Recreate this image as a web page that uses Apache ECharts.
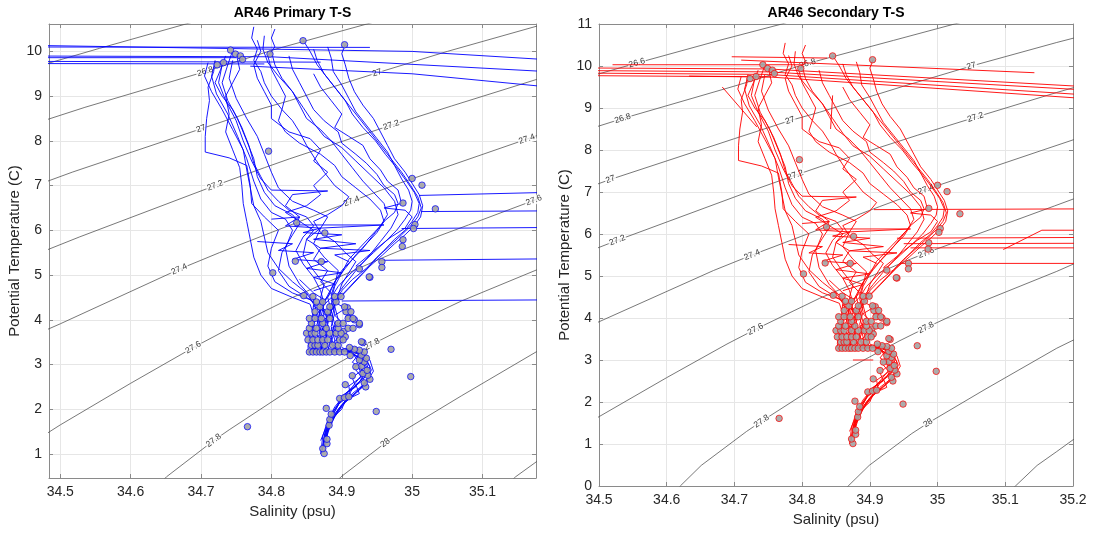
<!DOCTYPE html>
<html><head><meta charset="utf-8">
<script src="https://cdn.jsdelivr.net/npm/echarts@6/dist/echarts.min.js"></script>
<style>html,body{margin:0;padding:0;background:#fff}#c{width:1094px;height:533px}</style>
</head><body><div id="c"></div>
<script>
// ---------- tick labels ----------
const salinityTicksPrimary = [34.5, 34.6, 34.7, 34.8, 34.9, 35.0, 35.1];
const temperatureTicksPrimary = [1, 2, 3, 4, 5, 6, 7, 8, 9, 10];
const salinityTicksSecondary = [34.5, 34.6, 34.7, 34.8, 34.9, 35.0, 35.1, 35.2];
const temperatureTicksSecondary = [0, 1, 2, 3, 4, 5, 6, 7, 8, 9, 10, 11];
const titles = ['AR46 Primary T-S', 'AR46 Secondary T-S'];

// ---------- density (sigma-theta) contours: [S, T] ----------
const contour266 = [[34.40,9.35],[34.484,9.74],[34.556,10.07],[34.68,10.62],[34.77,11.0],[34.80,11.15]];
const contour268 = [[34.40,8.1],[34.484,8.49],[34.535,8.75],[34.706,9.55],[34.808,10.06],[34.935,10.61],[35.025,11.0],[35.1,11.3]];
const contour270 = [[34.40,6.65],[34.484,7.11],[34.517,7.3],[34.70,8.27],[34.782,8.7],[34.826,8.9],[34.95,9.52],[35.05,10.0],[35.176,10.56],[35.2,10.66],[35.3,11.1]];
const contour272 = [[34.40,5.05],[34.484,5.58],[34.527,5.85],[34.72,7.0],[34.79,7.4],[34.826,7.6],[34.97,8.35],[35.056,8.78],[35.176,9.37],[35.2,9.48],[35.3,9.95]];
const contour274 = [[34.40,3.2],[34.484,3.8],[34.5,3.91],[34.669,5.13],[34.726,5.5],[34.914,6.65],[34.983,7.06],[35.163,8.04],[35.2,8.24],[35.3,8.75]];
const contour276 = [[34.40,0.5],[34.484,1.49],[34.5,1.65],[34.6,2.58],[34.689,3.38],[34.731,3.73],[34.826,4.47],[34.96,5.4],[34.983,5.55],[35.08,6.12],[35.173,6.67],[35.2,6.83],[35.3,7.4]];
const contour278 = [[34.61,-0.2],[34.62,0.0],[34.651,0.49],[34.718,1.3],[34.74,1.54],[34.826,2.43],[34.943,3.45],[34.983,3.77],[35.07,4.42],[35.176,5.11],[35.2,5.28],[35.3,5.9]];
const contour280 = [[34.855,-0.2],[34.868,0.0],[34.899,0.49],[34.962,1.25],[34.986,1.5],[35.07,2.3],[35.176,3.28],[35.2,3.47],[35.3,4.2]];
const contour282 = [[35.1,-0.2],[35.115,0.0],[35.147,0.49],[35.176,0.82],[35.2,1.1],[35.3,2.0]];
const contours = [contour266, contour268, contour270, contour272, contour274, contour276, contour278, contour280, contour282];

// contour labels: [text, S, T, contour index]
const contourLabelsPrimary = [
  ['26.8',34.706,9.55,1],['27',34.70,8.27,2],['27',34.95,9.52,2],
  ['27.2',34.72,7.0,3],['27.2',34.97,8.35,3],
  ['27.4',34.669,5.13,4],['27.4',34.914,6.65,4],['27.4',35.163,8.04,4],
  ['27.6',34.689,3.38,5],['27.6',35.173,6.67,5],
  ['27.8',34.718,1.3,6],['27.8',34.943,3.45,6],['28',34.962,1.25,7]
];
const contourLabelsSecondary = [
  ['26.6',34.556,10.07,0],['26.8',34.535,8.75,1],['26.8',34.808,10.06,1],
  ['27',34.517,7.3,2],['27',34.782,8.7,2],['27',35.05,10.0,2],
  ['27.2',34.527,5.85,3],['27.2',34.79,7.4,3],['27.2',35.056,8.78,3],
  ['27.4',34.726,5.5,4],['27.4',34.983,7.06,4],
  ['27.6',34.731,3.73,5],['27.6',34.983,5.55,5],
  ['27.8',34.74,1.54,6],['27.8',34.983,3.77,6],['28',34.986,1.5,7]
];

// ---------- CTD profiles [S, T] ----------
const profileA1 = [[34.72,9.78],[34.715,9.45],[34.722,9.05],[34.738,8.6],[34.752,8.1],[34.765,7.6],[34.775,7.1],[34.785,6.7],[34.80,6.4],[34.82,6.25],[34.83,6.0],[34.82,5.6],[34.825,5.2],[34.84,4.8],[34.86,4.45],[34.865,4.1],[34.858,3.8],[34.862,3.5],[34.855,3.3],[34.9,3.32],[34.915,3.25],[34.925,3.05],[34.93,2.8],[34.915,2.5],[34.9,2.25],[34.89,2.0],[34.88,1.7],[34.875,1.4],[34.872,1.05]];
const profileA2 = [[34.745,10.02],[34.738,9.7],[34.73,9.3],[34.738,8.9],[34.752,8.5],[34.765,8.0],[34.775,7.6],[34.78,7.2],[34.79,6.85],[34.805,6.55],[34.83,6.35],[34.84,6.15],[34.83,5.9],[34.815,5.5],[34.81,5.1],[34.825,4.75],[34.85,4.5],[34.87,4.3],[34.866,3.95],[34.87,3.6],[34.862,3.35],[34.88,3.28],[34.91,3.35],[34.93,3.2],[34.94,2.95],[34.93,2.65],[34.91,2.4],[34.895,2.1],[34.885,1.8],[34.878,1.5],[34.874,1.15]];
const profileA3 = [[34.72,9.8],[34.718,9.55],[34.71,9.2],[34.712,8.9],[34.708,8.5],[34.706,8.1],[34.706,7.75],[34.74,7.62],[34.765,7.45],[34.77,7.0],[34.772,6.6],[34.79,6.3],[34.81,6.0],[34.8,5.6],[34.795,5.2],[34.805,4.85],[34.83,4.6],[34.855,4.45],[34.87,4.25],[34.868,3.9],[34.875,3.55],[34.87,3.3],[34.9,3.3]];
const profileA4 = [[34.75,9.95],[34.755,9.6],[34.745,9.3],[34.735,9.0],[34.74,8.6],[34.735,8.2],[34.745,7.8],[34.755,7.4],[34.758,7.0],[34.76,6.6],[34.765,6.2],[34.77,5.8],[34.775,5.4],[34.785,5.0],[34.8,4.7],[34.83,4.5],[34.855,4.35],[34.862,4.0],[34.855,3.7],[34.86,3.4],[34.858,3.25]];
const profileA5 = [[34.745,9.8],[34.74,9.4],[34.75,8.95],[34.765,8.5],[34.78,8.1],[34.79,7.7],[34.8,7.3],[34.81,6.95],[34.83,6.65],[34.86,6.45],[34.88,6.3],[34.87,6.05],[34.86,5.7],[34.875,5.4],[34.895,5.1],[34.89,4.8],[34.885,4.55],[34.89,4.3],[34.885,4.0],[34.89,3.75],[34.885,3.5],[34.89,3.3],[34.915,3.35],[34.93,3.15],[34.925,2.9],[34.93,2.7],[34.915,2.45],[34.905,2.2],[34.895,1.95],[34.885,1.7],[34.878,1.35]];
const profileA6 = [[34.73,9.7],[34.725,9.3],[34.735,8.9],[34.75,8.45],[34.76,8.0],[34.772,7.55],[34.785,7.15],[34.8,6.9],[34.88,6.88],[34.83,6.8],[34.82,6.55],[34.84,6.3],[34.835,6.12],[34.96,6.12],[34.87,6.05],[34.85,5.8],[34.845,5.45],[34.86,5.1],[34.875,4.8],[34.87,4.5],[34.875,4.2],[34.87,3.9],[34.878,3.6],[34.872,3.35]];
const profileA7 = [[34.735,9.9],[34.728,9.6],[34.72,9.3],[34.73,9.0],[34.745,8.7],[34.758,8.3],[34.768,7.9],[34.775,7.5],[34.785,7.2],[34.795,6.9],[34.81,6.65],[34.825,6.45],[34.85,6.3],[34.86,6.1],[34.845,5.85],[34.835,5.55],[34.845,5.25],[34.86,4.95],[34.87,4.65],[34.875,4.35],[34.87,4.05],[34.875,3.75],[34.868,3.45],[34.872,3.27],[34.91,3.3],[34.935,3.05],[34.94,2.75],[34.925,2.45],[34.905,2.15],[34.89,1.85],[34.88,1.55],[34.875,1.25]];
const profileA8 = [[34.71,9.75],[34.705,9.45],[34.715,9.1],[34.73,8.7],[34.745,8.25],[34.76,7.8],[34.765,7.35],[34.77,6.95],[34.775,6.55],[34.785,6.2],[34.79,5.85],[34.795,5.5],[34.81,5.15],[34.83,4.85],[34.85,4.6],[34.86,4.35],[34.858,4.05],[34.862,3.75],[34.856,3.45],[34.86,3.27]];
const profileB1 = [[34.805,10.5],[34.8,10.3],[34.805,10.1],[34.795,9.9],[34.8,9.6],[34.81,9.3],[34.82,9.0],[34.815,8.7],[34.81,8.45],[34.82,8.2],[34.84,7.95],[34.87,7.7],[34.89,7.45],[34.9,7.2],[34.92,6.95],[34.94,6.7],[34.955,6.45],[34.96,6.2],[34.95,5.95],[34.935,5.7],[34.92,5.45],[34.905,5.15],[34.89,4.85],[34.88,4.5],[34.885,4.2],[34.89,3.9],[34.885,3.6],[34.89,3.35],[34.91,3.3],[34.925,3.15],[34.935,2.9],[34.925,2.6],[34.905,2.35],[34.89,2.05],[34.88,1.75],[34.873,1.4],[34.87,1.0]];
const profileB2 = [[34.79,10.35],[34.788,10.05],[34.795,9.75],[34.81,9.45],[34.83,9.1],[34.845,8.75],[34.86,8.4],[34.875,8.1],[34.9,7.85],[34.92,7.55],[34.94,7.25],[34.96,6.95],[34.975,6.65],[34.98,6.35],[34.97,6.05],[34.955,5.75],[34.94,5.45],[34.92,5.1],[34.905,4.8],[34.89,4.5],[34.88,4.2],[34.875,3.85],[34.88,3.5],[34.875,3.3]];
const profileB3 = [[34.78,10.25],[34.785,10.0],[34.775,9.7],[34.78,9.4],[34.79,9.1],[34.8,8.8],[34.8,8.5],[34.825,8.2],[34.855,8.05],[34.87,7.8],[34.86,7.55],[34.88,7.3],[34.86,7.0],[34.87,6.8],[34.85,6.55],[34.82,6.4],[34.84,6.2],[34.86,6.0],[34.85,5.8],[34.87,5.6],[34.86,5.35],[34.88,5.1],[34.87,4.85],[34.885,4.6],[34.87,4.35],[34.88,4.0],[34.87,3.7],[34.88,3.45],[34.875,3.28],[34.92,3.38],[34.94,3.1],[34.945,2.85],[34.935,2.6],[34.915,2.35],[34.9,2.1],[34.888,1.85],[34.88,1.55],[34.876,1.2]];
const profileB4 = [[34.775,10.55],[34.772,10.3],[34.78,10.05],[34.775,9.8],[34.785,9.55],[34.79,9.3],[34.8,9.0],[34.815,8.7],[34.83,8.45],[34.84,8.2],[34.85,7.9],[34.862,7.6],[34.875,7.3],[34.89,7.0],[34.91,6.75],[34.9,6.55],[34.88,6.35],[34.86,6.2],[34.87,5.95],[34.89,5.75],[34.905,5.5],[34.92,5.3],[34.91,5.05],[34.9,4.8],[34.895,4.55],[34.89,4.3],[34.895,4.0],[34.89,3.7],[34.895,3.45],[34.9,3.3]];
const profileB5 = [[34.8,10.0],[34.805,9.7],[34.815,9.4],[34.83,9.1],[34.84,8.8],[34.85,8.5],[34.87,8.25],[34.885,8.0],[34.9,7.7],[34.915,7.4],[34.93,7.1],[34.945,6.85],[34.96,6.6],[34.965,6.35],[34.955,6.1],[34.94,5.85],[34.925,5.6],[34.91,5.35],[34.9,5.05],[34.89,4.75],[34.885,4.45],[34.89,4.15],[34.885,3.85],[34.89,3.55],[34.892,3.32]];
const profileC1 = [[34.845,10.25],[34.855,10.0],[34.865,9.7],[34.88,9.4],[34.895,9.1],[34.91,8.8],[34.925,8.5],[34.94,8.2],[34.955,7.9],[34.97,7.6],[34.985,7.3],[34.998,7.0],[35.008,6.75],[35.013,6.5],[35.008,6.3],[34.998,6.1],[34.985,5.9],[34.968,5.65],[34.95,5.4],[34.935,5.15],[34.915,4.9],[34.9,4.65],[34.89,4.4],[34.88,4.1],[34.875,3.8],[34.87,3.5],[34.872,3.3],[34.905,3.32],[34.93,3.1],[34.94,2.8],[34.93,2.5],[34.91,2.25],[34.895,2.0],[34.882,1.7],[34.875,1.35],[34.872,1.05]];
const profileC2 = [[34.905,10.15],[34.9,9.95],[34.905,9.7],[34.91,9.4],[34.918,9.1],[34.93,8.8],[34.945,8.5],[34.955,8.2],[34.965,7.9],[34.975,7.6],[34.99,7.3],[35.0,7.05],[35.01,6.8],[35.015,6.55],[35.012,6.3],[35.003,6.1],[34.99,5.9],[34.975,5.7],[34.958,5.45],[34.94,5.2],[34.925,4.95],[34.91,4.7],[34.895,4.45],[34.885,4.2],[34.88,3.9],[34.885,3.6],[34.88,3.3]];
const profileC3 = [[34.88,10.1],[34.885,9.85],[34.888,9.55],[34.9,9.25],[34.91,8.95],[34.92,8.65],[34.935,8.35],[34.95,8.05],[34.965,7.75],[34.975,7.45],[34.985,7.15],[34.995,6.9],[35.0,6.65],[34.998,6.45],[34.99,6.25],[34.978,6.0],[34.962,5.75],[34.945,5.5],[34.928,5.25],[34.91,5.0],[34.895,4.75],[34.885,4.5],[34.87,4.25],[34.865,3.9],[34.858,3.55],[34.86,3.3]];
const profileC4 = [[34.825,9.9],[34.83,9.6],[34.84,9.3],[34.85,9.0],[34.86,8.7],[34.875,8.45],[34.895,8.2],[34.9,7.95],[34.92,7.7],[34.935,7.5],[34.95,7.25],[34.96,7.0],[34.975,6.8],[34.98,6.6],[34.975,6.4],[34.96,6.2],[34.945,5.9],[34.93,5.6],[34.915,5.35],[34.9,5.1],[34.89,4.85],[34.88,4.55],[34.872,4.3],[34.86,4.0],[34.855,3.7],[34.852,3.4],[34.853,3.25]];
const profileC5 = [[34.86,10.05],[34.865,9.8],[34.875,9.5],[34.89,9.2],[34.905,8.9],[34.915,8.6],[34.93,8.3],[34.948,8.0],[34.962,7.7],[34.978,7.4],[34.992,7.1],[35.003,6.85],[35.01,6.6],[35.008,6.4],[35.0,6.2],[34.99,6.0],[34.975,5.8],[34.96,5.55],[34.945,5.3],[34.93,5.05],[34.915,4.8],[34.9,4.55],[34.888,4.3],[34.88,4.0],[34.878,3.7],[34.88,3.4],[34.885,3.28],[34.915,3.3],[34.935,3.12],[34.942,2.88],[34.935,2.6],[34.92,2.35],[34.9,2.1],[34.888,1.8],[34.88,1.5],[34.876,1.1]];
const profileC6 = [[34.86,9.5],[34.87,9.2],[34.885,8.9],[34.9,8.6],[34.89,8.3],[34.91,8.1],[34.93,7.9],[34.94,7.6],[34.955,7.35],[34.965,7.1],[34.98,6.9],[34.985,6.6],[34.96,6.5],[34.99,6.45],[35.0,6.3],[34.99,6.05],[34.97,5.85],[34.95,5.6],[34.935,5.4],[34.92,5.2]];
const profileZ1 = [[34.8,6.25],[34.84,6.3],[34.82,6.1],[34.87,6.05],[34.845,5.95],[34.9,5.9],[34.86,5.8],[34.92,5.7],[34.87,5.6],[34.94,5.55],[34.89,5.45],[34.91,5.3]];
const profileZ2 = [[34.78,5.75],[34.83,5.7],[34.81,5.55],[34.86,5.5],[34.83,5.35],[34.88,5.3],[34.85,5.15],[34.9,5.05],[34.86,4.95],[34.89,4.8],[34.86,4.65]];
const profileT1 = [[34.84,4.9],[34.86,4.6],[34.875,4.45],[34.86,4.3],[34.88,4.15],[34.862,4.0],[34.878,3.85],[34.86,3.7],[34.875,3.55],[34.858,3.4],[34.87,3.25]];
const profileT2 = [[34.9,4.6],[34.89,4.4],[34.905,4.25],[34.89,4.1],[34.9,3.95],[34.885,3.8],[34.895,3.6],[34.885,3.45],[34.895,3.3]];
const profileT3 = [[34.905,3.35],[34.92,3.3],[34.93,3.15],[34.925,2.95],[34.935,2.75],[34.92,2.55],[34.925,2.35],[34.905,2.2],[34.9,2.0],[34.89,1.85],[34.885,1.65],[34.88,1.5]];
const profileT4 = [[34.91,3.4],[34.925,3.25],[34.915,3.05],[34.93,2.9],[34.915,2.7],[34.92,2.5],[34.9,2.3],[34.895,2.1],[34.885,1.9],[34.878,1.6],[34.87,1.3]];
const profileT5 = [[34.88,4.5],[34.87,4.3],[34.885,4.1],[34.868,3.95],[34.882,3.8],[34.865,3.62],[34.88,3.48],[34.862,3.35],[34.875,3.24]];
const profileT6 = [[34.9,3.38],[34.915,3.28],[34.925,3.12],[34.918,2.92],[34.928,2.72],[34.91,2.52],[34.912,2.32],[34.896,2.12],[34.89,1.95],[34.882,1.72],[34.876,1.45],[34.873,1.15]];
const profiles = [profileA1, profileA2, profileA3, profileA4, profileA5, profileA6, profileA7, profileA8,
  profileB1, profileB2, profileB3, profileB4, profileB5,
  profileC1, profileC2, profileC3, profileC4, profileC5, profileC6,
  profileZ1, profileZ2, profileT1, profileT2, profileT3, profileT4, profileT5, profileT6];

// surface / deep spikes, primary sensors
const primarySpikes = [
  [[34.40,10.15],[35.0,10.0],[35.25,9.76]],
  [[34.40,10.1],[34.94,10.09]],
  [[34.40,9.9],[34.8,9.88],[35.25,9.5]],
  [[34.77,9.67],[35.0,9.5],[35.25,9.12]],
  [[34.40,9.78],[34.87,9.76]],
  [[34.40,9.73],[34.79,9.72]],
  [[34.40,9.86],[34.75,9.86]],
  [[35.01,6.78],[35.25,6.87]],
  [[35.013,6.42],[35.25,6.44]],
  [[34.985,6.04],[35.25,6.07]],
  [[34.955,5.33],[35.25,5.37]],
  [[34.9,4.42],[35.25,4.45]]
];
// surface / deep spikes, secondary sensors
const secondarySpikes = [
  [[34.52,10.03],[34.803,10.03]],
  [[34.40,9.96],[34.75,9.93],[35.25,9.48]],
  [[34.40,9.9],[34.75,9.86],[35.25,9.4]],
  [[34.40,9.84],[34.75,9.8],[35.25,9.28]],
  [[34.40,9.78],[34.75,9.74],[35.25,9.19]],
  [[34.696,10.22],[34.837,10.19]],
  [[34.71,10.14],[35.143,9.84]],
  [[34.633,9.76],[34.754,9.74]],
  [[34.682,9.5],[34.733,8.55]],
  [[34.845,9.3],[34.842,8.5]],
  [[34.906,6.58],[35.25,6.6]],
  [[35.097,5.63],[35.154,6.09],[35.25,6.09]],
  [[34.94,5.9],[35.25,5.92]],
  [[34.95,5.77],[35.25,5.78]],
  [[34.96,5.67],[35.25,5.67]],
  [[34.945,5.3],[35.25,5.3]],
  [[34.875,3.0],[34.905,3.0]]
];

// bottle samples [S, T]
const bottles = [
  [34.742,10.03],[34.749,9.94],[34.756,9.9],[34.759,9.82],[34.723,9.7],[34.732,9.75],[34.798,9.94],[34.845,10.24],[34.904,10.15],
  [34.796,7.77],[35.0,7.16],[35.014,7.01],[34.987,6.61],[35.033,6.48],[35.004,6.13],[35.002,6.04],[34.987,5.79],[34.986,5.64],
  [34.834,5.31],[34.802,5.05],[34.871,5.3],[34.957,5.3],[34.957,5.17],[34.94,4.95],[34.925,5.14],[34.876,5.94],[34.836,6.17],
  [34.91,4.04],[34.918,4.0],[34.908,4.27],[34.925,3.89],[34.903,3.74],[34.905,3.62],[34.93,3.49],[34.97,3.34],[34.998,2.73],
  [34.949,1.95],[34.766,1.61],[34.846,4.54],
  [34.875,1.01],[34.873,1.12],[34.879,1.23],[34.879,1.33],[34.882,1.64],[34.883,1.77],[34.885,1.89],[34.878,2.02],
  [34.897,2.24],[34.904,2.26],[34.91,2.28],[34.934,2.5],[34.932,2.59],[34.94,2.67],[34.937,2.76],[34.93,2.8],[34.936,2.87],
  [34.928,2.96],[34.932,3.06],[34.925,3.1],[34.935,3.14],[34.928,3.21],[34.932,3.28],[34.925,3.32],[34.918,3.34],[34.911,3.38],
  [34.928,3.51],[34.939,4.96],[34.905,2.55],[34.915,2.75],[34.92,2.95],[34.912,3.2],
  [34.854,3.28],[34.859,3.28],[34.864,3.28],[34.869,3.28],[34.873,3.28],[34.878,3.28],[34.883,3.28],[34.890,3.28],[34.897,3.28],[34.904,3.28],
  [34.857,3.43],[34.862,3.43],[34.866,3.43],[34.876,3.43],[34.887,3.43],[34.895,3.43],
  [34.852,3.55],[34.859,3.55],[34.866,3.55],[34.873,3.55],[34.880,3.55],[34.897,3.55],[34.902,3.55],
  [34.850,3.70],[34.857,3.70],[34.862,3.70],[34.873,3.70],[34.883,3.70],[34.892,3.70],[34.899,3.70],
  [34.854,3.81],[34.864,3.81],[34.878,3.81],[34.895,3.81],[34.909,3.81],[34.916,3.81],
  [34.857,3.92],[34.873,3.92],[34.895,3.92],[34.902,3.92],[34.925,3.92],
  [34.854,4.03],[34.862,4.03],[34.871,4.03],[34.883,4.03],[34.909,4.03],[34.916,4.03],
  [34.862,4.18],[34.880,4.18],[34.906,4.18],[34.913,4.18],
  [34.869,4.29],[34.883,4.29],[34.904,4.29],
  [34.864,4.40],[34.873,4.40],[34.892,4.40],
  [34.859,4.52],[34.890,4.52],[34.899,4.52]
];

// ---------- layout ----------
const panels = [
  {left:49, top:24, width:487, height:454, xmin:34.484, xmax:35.176, ymin:0.463, ymax:10.613,
   xt:salinityTicksPrimary, yt:temperatureTicksPrimary, color:'#0000ff', spikes:primarySpikes, labels:contourLabelsPrimary},
  {left:599, top:24, width:474, height:462, xmin:34.5, xmax:35.2, ymin:0, ymax:11,
   xt:salinityTicksSecondary, yt:temperatureTicksSecondary, color:'#ff0000', spikes:secondarySpikes, labels:contourLabelsSecondary}
];
const FONT = 'Liberation Sans, Arial, Helvetica, sans-serif';
const AX = '#8a8a8a';
const fmt = v => String(Number(Number(v).toFixed(3)));

const grid = [], xAxis = [], yAxis = [], series = [], graphic = [];
panels.forEach((p, gi) => {
  grid.push({left:p.left, top:p.top, width:p.width, height:p.height, containLabel:false});
  const common = {type:'value', gridIndex:gi, axisLine:{show:true, onZero:false, lineStyle:{color:AX, width:1}}};
  xAxis.push(Object.assign({}, common, {position:'bottom', min:p.xmin, max:p.xmax,
    axisTick:{show:true, inside:true, length:4, customValues:p.xt, lineStyle:{color:AX}},
    axisLabel:{show:true, customValues:p.xt, formatter:fmt, margin:7, fontSize:14, color:'#262626', fontFamily:FONT},
    splitLine:{show:true, lineStyle:{color:'#e6e6e6', width:1}},
    name:'Salinity (psu)', nameLocation:'middle', nameGap:25, nameTextStyle:{fontSize:15, color:'#262626', fontFamily:FONT}}));
  xAxis.push(Object.assign({}, common, {position:'top', min:p.xmin, max:p.xmax,
    axisTick:{show:true, inside:true, length:4, customValues:p.xt, lineStyle:{color:AX}},
    axisLabel:{show:false}, splitLine:{show:false}}));
  yAxis.push(Object.assign({}, common, {position:'left', min:p.ymin, max:p.ymax,
    axisTick:{show:true, inside:true, length:4, customValues:p.yt, lineStyle:{color:AX}},
    axisLabel:{show:true, customValues:p.yt, formatter:fmt, margin:7, fontSize:14, color:'#262626', fontFamily:FONT},
    splitLine:{show:true, lineStyle:{color:'#e6e6e6', width:1}},
    name:'Potential Temperature (C)', nameLocation:'middle', nameGap:23, nameTextStyle:{fontSize:15, color:'#262626', fontFamily:FONT}}));
  yAxis.push(Object.assign({}, common, {position:'right', min:p.ymin, max:p.ymax,
    axisTick:{show:true, inside:true, length:4, customValues:p.yt, lineStyle:{color:AX}},
    axisLabel:{show:false}, splitLine:{show:false}}));
  const xi = gi * 2, yi = gi * 2;

  // contours
  contours.forEach(c => series.push({type:'line', xAxisIndex:xi, yAxisIndex:yi, data:c, showSymbol:false, silent:true,
    smooth:false, lineStyle:{color:'#555', width:0.8}, z:1, animation:false}));
  // contour labels with rotation following the local slope
  const pxPerX = p.width / (p.xmax - p.xmin), pxPerY = p.height / (p.ymax - p.ymin);
  const labelData = p.labels.map(([txt, s, t, ci]) => {
    const c = contours[ci];
    let k = 0;
    while (k < c.length - 2 && c[k + 1][0] < s) k++;
    const slope = (c[k + 1][1] - c[k][1]) / (c[k + 1][0] - c[k][0]);
    const ang = Math.atan(slope * pxPerY / pxPerX) * 180 / Math.PI;
    return {value:[s, t], label:{formatter:txt, rotate:ang}};
  });
  series.push({type:'scatter', xAxisIndex:xi, yAxisIndex:yi, data:labelData, symbolSize:0, silent:true, z:2, animation:false,
    label:{show:true, position:'inside', fontSize:8.5, color:'#000', fontFamily:FONT, backgroundColor:'#fff', padding:[0, 1]}});

  // profiles
  const lineStyle = {color:p.color, width:1, opacity:0.9};
  profiles.concat(p.spikes).forEach(pr => series.push({type:'line', xAxisIndex:xi, yAxisIndex:yi, data:pr, showSymbol:false,
    silent:true, lineStyle:lineStyle, z:3, animation:false}));
  // bottles
  series.push({type:'scatter', xAxisIndex:xi, yAxisIndex:yi, data:bottles, symbol:'circle', symbolSize:6.5, silent:true, z:4,
    animation:false, itemStyle:{color:'#a3a3a3', borderColor:p.color, borderWidth:0.8, opacity:0.9}});

  graphic.push({type:'text', x:p.left + p.width / 2, y:13, silent:true,
    style:{text:titles[gi], align:'center', verticalAlign:'middle', fontSize:14, fontWeight:'bold', fontFamily:FONT, fill:'#000'}});
});

const chart = echarts.init(document.getElementById('c'), null, {renderer:'canvas'});
chart.setOption({animation:false, backgroundColor:'#fff', grid, xAxis, yAxis, series, graphic});
</script></body></html>
